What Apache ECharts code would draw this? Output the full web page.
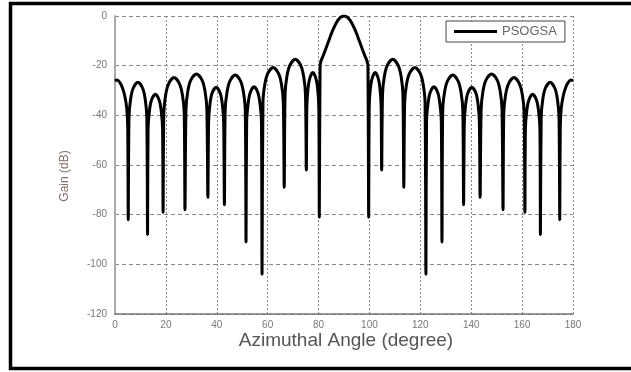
<!DOCTYPE html>
<html>
<head>
<meta charset="utf-8">
<title>PSOGSA gain pattern</title>
<script src="https://cdn.jsdelivr.net/npm/echarts@6/dist/echarts.min.js"></script>
<style>
  html, body { margin: 0; padding: 0; background: #fff; }
  #chart { width: 631px; height: 372px; }
</style>
</head>
<body>
<div id="chart"></div>
<script>
// azimuthal angle (degree)
const angle = [
  0, 0.8, 1.8, 2.8, 3.8, 4.6, 5.0, 5.2,
  5.5, 6.1, 7.1, 9.0, 10.9, 11.9, 12.5, 12.8,
  13.0, 13.5, 14.3, 15.85, 17.4, 18.2, 18.7, 18.9,
  19.2, 19.9, 21.05, 23.2, 25.35, 26.5, 27.2, 27.5,
  27.9, 28.6, 29.75, 32.0, 34.25, 35.4, 36.1, 36.5,
  36.8, 37.3, 38.1, 39.75, 41.4, 42.2, 42.7, 43.0,
  43.3, 44.0, 45.1, 47.25, 49.4, 50.5, 51.2, 51.5,
  51.75, 52.3, 53.1, 54.65, 56.2, 57.0, 57.55, 57.8,
  58.15, 58.85, 60.0, 62.15, 64.3, 65.45, 66.15, 66.5,
  66.85, 67.55, 68.7, 70.85, 73.0, 74.15, 74.85, 75.2,
  75.4, 75.8, 76.5, 77.75, 79.0, 79.7, 80.1, 80.3,
  80.6, 81, 82, 83, 84, 85, 86, 87, 88, 89, 90,
  91, 92, 93, 94, 95, 96, 97, 98, 99, 99.4, 99.7,
  99.9, 100.3, 101.0, 102.25, 103.5, 104.2, 104.6, 104.8,
  105.15, 105.85, 107.0, 109.15, 111.3, 112.45, 113.15, 113.5,
  113.85, 114.55, 115.7, 117.85, 120.0, 121.15, 121.85, 122.2,
  122.45, 123.0, 123.8, 125.35, 126.9, 127.7, 128.25, 128.5,
  128.8, 129.5, 130.6, 132.75, 134.9, 136.0, 136.7, 137.0,
  137.3, 137.8, 138.6, 140.25, 141.9, 142.7, 143.2, 143.5,
  143.9, 144.6, 145.75, 148.0, 150.25, 151.4, 152.1, 152.5,
  152.8, 153.5, 154.65, 156.8, 158.95, 160.1, 160.8, 161.1,
  161.3, 161.8, 162.6, 164.15, 165.7, 166.5, 167.0, 167.2,
  167.5, 168.1, 169.1, 171.0, 172.9, 173.9, 174.5, 174.8,
  175.0, 175.4, 176.2, 177.2, 178.2, 179.2, 180
]

// gain (dB) at each angle above
const gain = [
  -26.2, -25.8, -26.6, -28.6, -32, -37, -45, -82,
  -40.7, -33.7, -29.2, -26.7, -29.2, -33.7, -40.7, -88,
  -45.5, -38.5, -34, -31.5, -34, -38.5, -45.5, -79,
  -38.8, -31.8, -27.3, -24.8, -27.3, -31.8, -38.8, -78,
  -37.4, -30.4, -25.9, -23.4, -25.9, -30.4, -37.4, -73,
  -42.7, -35.7, -31.2, -28.7, -31.2, -35.7, -42.7, -76,
  -37.8, -30.8, -26.3, -23.8, -26.3, -30.8, -37.8, -91,
  -42.5, -35.5, -31, -28.5, -31, -35.5, -42.5, -104,
  -34.7, -27.7, -23.2, -20.7, -23.2, -27.7, -34.7, -69,
  -31.4, -24.4, -19.9, -17.4, -19.9, -24.4, -31.4, -62,
  -36.8, -29.8, -25.3, -22.8, -25.3, -29.8, -36.8, -81,
  -20, -18, -15.5, -12.8, -10, -7.2, -4.8, -2.7, -1.2, -0.3, 0,
  -0.3, -1.2, -2.7, -4.8, -7.2, -10, -12.8, -15.5, -18, -20, -81,
  -36.8, -29.8, -25.3, -22.8, -25.3, -29.8, -36.8, -62,
  -31.4, -24.4, -19.9, -17.4, -19.9, -24.4, -31.4, -69,
  -34.7, -27.7, -23.2, -20.7, -23.2, -27.7, -34.7, -104,
  -42.5, -35.5, -31, -28.5, -31, -35.5, -42.5, -91,
  -37.8, -30.8, -26.3, -23.8, -26.3, -30.8, -37.8, -76,
  -42.7, -35.7, -31.2, -28.7, -31.2, -35.7, -42.7, -73,
  -37.4, -30.4, -25.9, -23.4, -25.9, -30.4, -37.4, -78,
  -38.8, -31.8, -27.3, -24.8, -27.3, -31.8, -38.8, -79,
  -45.5, -38.5, -34, -31.5, -34, -38.5, -45.5, -88,
  -40.7, -33.7, -29.2, -26.7, -29.2, -33.7, -40.7, -82,
  -45, -37, -32, -28.6, -26.6, -25.8, -26.2
]

const xTicks = [0, 20, 40, 60, 80, 100, 120, 140, 160, 180]
const yTicks = [-120, -100, -80, -60, -40, -20, 0]
const seriesName = 'PSOGSA'

const chart = echarts.init(document.getElementById('chart'), null, { renderer: 'canvas' })

const font = 'Liberation Sans, Arial, sans-serif'

const option = {
  animation: false,
  backgroundColor: '#fff',
  grid: {
    left: 115,
    top: 16,
    width: 458,
    height: 298,
  },
  legend: {
    data: [seriesName],
    left: 446,
    top: 21,
    orient: 'horizontal',
    icon: 'rect',
    itemWidth: 43,
    itemHeight: 3,
    itemGap: 5,
    padding: [4, 8, 4, 8],
    borderColor: '#444',
    borderWidth: 1,
    backgroundColor: '#fff',
    itemStyle: { color: '#000' },
    textStyle: {
      fontFamily: font,
      fontSize: 13,
      color: '#666',
    },
  },
  xAxis: {
    type: 'value',
    min: xTicks[0],
    max: xTicks[xTicks.length - 1],
    interval: 20,
    axisLine: {
      onZero: false,
      lineStyle: { color: '#777', width: 1.5 },
    },
    axisTick: { show: false },
    axisLabel: {
      margin: 6,
      fontFamily: font,
      fontSize: 10,
      color: '#777',
    },
    splitLine: {
      show: true,
      lineStyle: { color: '#888', width: 1, type: [2, 2] },
    },
  },
  yAxis: {
    type: 'value',
    min: yTicks[0],
    max: yTicks[yTicks.length - 1],
    interval: 20,
    axisLine: {
      show: true,
      lineStyle: { color: '#aaa', width: 2 },
    },
    axisTick: { show: false },
    axisLabel: {
      margin: 8,
      fontFamily: font,
      fontSize: 10,
      color: '#777',
    },
    splitLine: {
      show: true,
      lineStyle: { color: '#888', width: 1, type: [4, 3] },
    },
  },
  graphic: [
    {
      type: 'rect',
      silent: true,
      shape: { x: 10.5, y: 3.5, width: 640, height: 365 },
      style: { fill: 'none', stroke: '#000', lineWidth: 3.5 },
    },
    {
      type: 'text',
      silent: true,
      x: 65,
      y: 176,
      rotation: Math.PI / 2,
      style: {
        text: 'Gain (dB)',
        fontFamily: font,
        fontSize: 12,
        fill: '#806f66',
        align: 'center',
        verticalAlign: 'middle',
      },
    },
    {
      type: 'text',
      silent: true,
      x: 346,
      y: 341,
      style: {
        text: 'Azimuthal Angle (degree)',
        fontFamily: font,
        fontSize: 19,
        fill: '#555',
        align: 'center',
        verticalAlign: 'middle',
      },
    },
  ],
  series: [
    {
      name: seriesName,
      type: 'line',
      data: angle.map((a, i) => [a, gain[i]]),
      symbol: 'none',
      smooth: 0.3,
      lineStyle: { color: '#000', width: 3 },
      itemStyle: { color: '#000' },
      z: 3,
    },
  ],
}

chart.setOption(option)
</script>
</body>
</html>
